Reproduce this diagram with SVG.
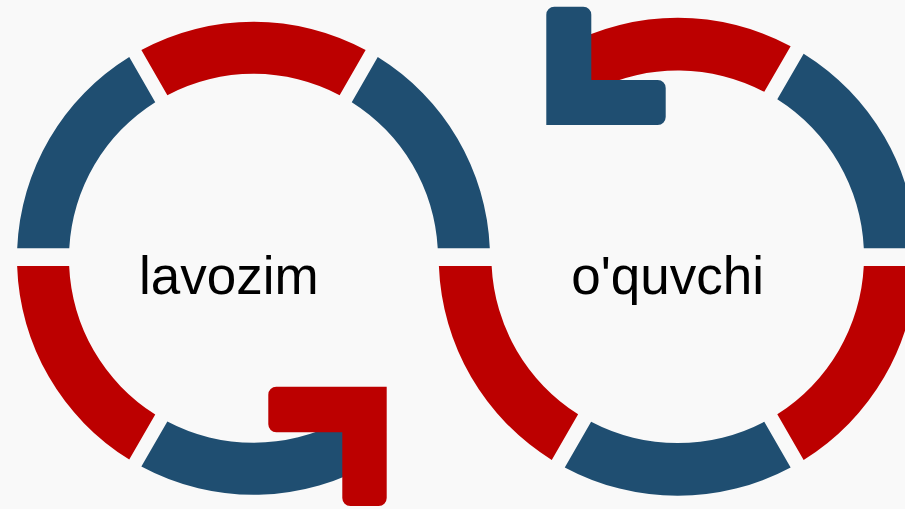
<svg xmlns="http://www.w3.org/2000/svg" width="905" height="509" viewBox="0 0 905 509">
  <style>
    .blue { fill: #1f4e71; }
    .red { fill: #bc0000; }
    .label { font-family: "Liberation Sans", Arial, sans-serif; font-size: 53px; fill: #000000; text-anchor: middle; }
  </style>
  <rect x="0" y="0" width="905" height="509" fill="#f9f9f9"/>
  <g id="node-oquvchi">
    <path class="red" d="M 790.64,46.18 A 239 239 0 0 0 565,46.04 L 595,89.86 A 186.3 186.3 0 0 1 764.28,91.84 Z"/>
    <path class="blue" d="M 803.64,53.68 A 239 239 0 0 1 916.55,248.3 L 863.81,248.3 A 186.3 186.3 0 0 0 777.28,99.34 Z"/>
    <path class="red" d="M 916.52,266 A 239 239 0 0 1 803.64,459.92 L 777.28,414.26 A 186.3 186.3 0 0 0 863.77,266 Z"/>
    <path class="blue" d="M 790.64,467.42 A 239 239 0 0 1 564.76,467.42 L 591.12,421.76 A 186.3 186.3 0 0 0 764.28,421.76 Z"/>
    <path class="red" d="M 551.76,459.92 A 239 239 0 0 1 438.88,266 L 491.63,266 A 186.3 186.3 0 0 0 578.12,414.26 Z"/>
    <text class="label" x="667.6" y="294">o'quvchi</text>
  </g>
  <g id="node-lavozim">
    <path class="blue" d="M 377.76,57.08 A 236.5 236.5 0 0 1 489.79,248.3 L 437.73,248.3 A 184.5 184.5 0 0 0 351.75,102.14 Z"/>
    <path class="red" d="M 141.36,50.08 A 236.5 236.5 0 0 1 365.64,50.08 L 339.63,95.14 A 184.5 184.5 0 0 0 167.37,95.14 Z"/>
    <path class="blue" d="M 129.24,57.08 A 236.5 236.5 0 0 0 17.21,248.3 L 69.27,248.3 A 184.5 184.5 0 0 1 155.25,102.14 Z"/>
    <path class="red" d="M 17.13,266 A 236.5 236.5 0 0 0 129.24,459.52 L 155.25,414.46 A 184.5 184.5 0 0 1 69.16,266 Z"/>
    <path class="blue" d="M 141.36,466.52 A 236.5 236.5 0 0 0 375,461.2 L 340,421.27 A 184.5 184.5 0 0 1 167.37,421.46 Z"/>
    <text class="label" x="228.9" y="294">lavozim</text>
  </g>
  <g id="connectors">
    <path id="arrow-to-oquvchi" class="red" d="M 386.7,386.7 V 498 A 8 8 0 0 1 378.7,506 H 350.3 A 8 8 0 0 1 342.3,498 V 432.3 H 276.3 A 8 8 0 0 1 268.3,424.3 V 394.7 A 8 8 0 0 1 276.3,386.7 Z"/>
    <path id="arrow-to-lavozim" class="blue" d="M 546.3,125 V 14.7 A 8 8 0 0 1 554.3,6.7 H 583.3 A 8 8 0 0 1 591.3,14.7 V 80 H 657.7 A 8 8 0 0 1 665.7,88 V 117 A 8 8 0 0 1 657.7,125 Z"/>
  </g>
</svg>
